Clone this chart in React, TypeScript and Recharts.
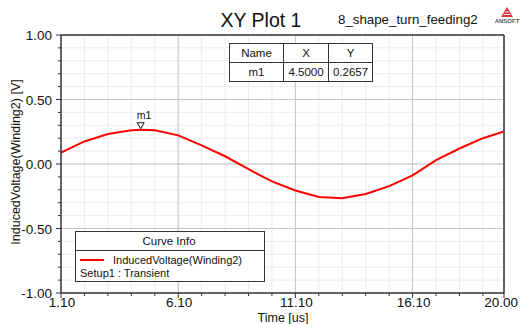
import React from "react";
import {
  LineChart,
  Line,
  XAxis,
  YAxis,
  CartesianGrid,
  ReferenceLine,
  ReferenceDot,
} from "recharts";

const times = [1.1, 2.1, 3.1, 4.1, 4.5, 5.1, 6.1, 7.1, 8.1, 9.1, 10.1, 11.1, 12.1, 13.1, 14.1, 15.1, 16.1, 17.1, 18.1, 19.1, 20.0];
const voltages = [0.088, 0.175, 0.233, 0.262, 0.2657, 0.262, 0.222, 0.145, 0.06, -0.04, -0.135, -0.205, -0.255, -0.265, -0.233, -0.172, -0.088, 0.03, 0.12, 0.2, 0.252];

const xTicks = [1.1, 2.1, 3.1, 4.1, 5.1, 6.1, 7.1, 8.1, 9.1, 10.1, 11.1, 12.1, 13.1, 14.1, 15.1, 16.1, 17.1, 18.1, 19.1, 20.0];
const xMajor = [1.1, 6.1, 11.1, 16.1, 20.0];
const yTicks = [-1.0, -0.9, -0.8, -0.7, -0.6, -0.5, -0.4, -0.3, -0.2, -0.1, 0.0, 0.1, 0.2, 0.3, 0.4, 0.5, 0.6, 0.7, 0.8, 0.9, 1.0];
const yMajor = [-1.0, -0.5, 0.0, 0.5, 1.0];
const xMajorInner = [6.1, 11.1, 16.1];
const yMajorInner = [-0.5, 0.0, 0.5];

const markerName = "m1";
const markerX = 4.5;
const markerY = 0.2657;

const title = "XY Plot 1";
const subtitle = "8_shape_turn_feeding2";
const seriesName = "InducedVoltage(Winding2)";
const setupName = "Setup1 : Transient";
const yLabel = "InducedVoltage(Winding2) [V]";
const xLabel = "Time [us]";

const data = times.map((t, i) => ({ t, v: voltages[i] }));

const FONT = "'Liberation Sans', Arial, sans-serif";
const isIn = (arr: number[], v: number) => arr.some((m) => Math.abs(m - v) < 1e-6);

const XTick = (props: any) => {
  const { x, y, payload } = props;
  const major = isIn(xMajor, payload.value);
  const last = Math.abs(payload.value - xMajor[xMajor.length - 1]) < 1e-6;
  return (
    <g>
      <line x1={x} x2={x} y1={y} y2={y + (major ? 5 : 3)} stroke="#333" strokeWidth={1} />
      {major && (
        <text
          x={last ? x + 14 : x + 1}
          y={y + 14}
          textAnchor={last ? "end" : "middle"}
          fontSize={13.5}
          fill="#111"
          fontFamily={FONT}
        >
          {Number(payload.value).toFixed(2)}
        </text>
      )}
    </g>
  );
};

const YTick = (props: any) => {
  const { x, y, payload } = props;
  const major = isIn(yMajor, payload.value);
  return (
    <g>
      <line x1={x} x2={x - (major ? 5 : 3)} y1={y} y2={y} stroke="#333" strokeWidth={1} />
      {major && (
        <text x={x - 9} y={y + 5} textAnchor="end" fontSize={13.5} fill="#111" fontFamily={FONT}>
          {Number(payload.value).toFixed(2)}
        </text>
      )}
    </g>
  );
};

const MarkerShape = (props: any) => {
  const { cx, cy } = props;
  return (
    <g>
      <text x={cx - 4} y={cy - 11} fontSize={10.5} fill="#111" fontFamily={FONT}>
        {markerName}
      </text>
      <path d={`M ${cx - 3.5} ${cy - 7} L ${cx + 3.5} ${cy - 7} L ${cx} ${cy - 1} Z`} fill="#fff" stroke="#111" strokeWidth={1} />
    </g>
  );
};

export default function App() {
  return (
    <div style={{ position: "absolute", left: 0, top: 0, width: 520, height: 324, background: "#fff", fontFamily: FONT }}>
      <LineChart
        width={520}
        height={324}
        data={data}
        margin={{ top: 35, right: 16, bottom: 0, left: 1 }}
      >
        <CartesianGrid stroke="#ececec" strokeWidth={1} />
        {xMajorInner.map((v) => (
          <ReferenceLine key={"vx" + v} x={v} stroke="#c4c4c4" strokeWidth={1} />
        ))}
        {yMajorInner.map((v) => (
          <ReferenceLine key={"hy" + v} y={v} stroke="#c4c4c4" strokeWidth={1} />
        ))}
        <ReferenceLine y={1.0} stroke="#333" strokeWidth={1.5} />
        <ReferenceLine x={20.0} stroke="#333" strokeWidth={1.5} />
        <XAxis
          dataKey="t"
          type="number"
          domain={[1.1, 20.0]}
          ticks={xTicks}
          interval={0}
          tickSize={0}
          tickMargin={0}
          tickLine={false}
          tick={<XTick />}
          height={31}
          axisLine={{ stroke: "#333", strokeWidth: 1.5 }}
          allowDataOverflow
        />
        <YAxis
          type="number"
          domain={[-1.0, 1.0]}
          ticks={yTicks}
          interval={0}
          tickSize={0}
          tickMargin={0}
          tickLine={false}
          tick={<YTick />}
          width={60}
          axisLine={{ stroke: "#333", strokeWidth: 1.5 }}
          allowDataOverflow
        />
        <Line
          type="linear"
          dataKey="v"
          stroke="#ff0000"
          strokeWidth={2}
          dot={false}
          isAnimationActive={false}
        />
        <ReferenceDot x={markerX} y={markerY} r={3} shape={<MarkerShape />} />
      </LineChart>
      <svg
        width={520}
        height={324}
        style={{ position: "absolute", left: 0, top: 0, pointerEvents: "none" }}
        fontFamily={FONT}
      >
        <text x={261} y={27} textAnchor="middle" fontSize={19.5} fill="#111">
          {title}
        </text>
        <text x={338} y={24} fontSize={13.3} fill="#111">
          {subtitle}
        </text>
        {/* ANSOFT logo */}
        <g>
          <path d="M 507 7 L 513 17 L 501 17 Z" fill="#d23a3a" />
          <path d="M 505 12 L 509 12 M 503.5 14.5 L 510.5 14.5" stroke="#fff" strokeWidth={0.8} />
          <text x={507} y={23} textAnchor="middle" fontSize={6} fontWeight="bold" fill="#555">
            ANSOFT
          </text>
        </g>
        {/* Marker table */}
        <g>
          <rect x={229.5} y={43.5} width={143} height={38} fill="#fff" stroke="#333" strokeWidth={1} />
          <line x1={229.5} x2={372.5} y1={62.5} y2={62.5} stroke="#333" />
          <line x1={283.5} x2={283.5} y1={43.5} y2={81.5} stroke="#333" />
          <line x1={328.5} x2={328.5} y1={43.5} y2={81.5} stroke="#333" />
          <text x={256.5} y={57} textAnchor="middle" fontSize={11.5} fill="#111">Name</text>
          <text x={306} y={57} textAnchor="middle" fontSize={11.5} fill="#111">X</text>
          <text x={350.5} y={57} textAnchor="middle" fontSize={11.5} fill="#111">Y</text>
          <text x={256.5} y={76} textAnchor="middle" fontSize={11.5} fill="#111">{markerName}</text>
          <text x={306} y={76} textAnchor="middle" fontSize={11.5} fill="#111">{markerX.toFixed(4)}</text>
          <text x={350.5} y={76} textAnchor="middle" fontSize={11.5} fill="#111">{markerY.toFixed(4)}</text>
        </g>
        {/* Curve info legend */}
        <g>
          <rect x={75.5} y={231.5} width={189} height={50} fill="#fff" stroke="#333" strokeWidth={1} />
          <line x1={75.5} x2={264.5} y1={250.5} y2={250.5} stroke="#333" />
          <text x={169} y={245} textAnchor="middle" fontSize={11.5} fill="#111">Curve Info</text>
          <line x1={80} x2={104} y1={260} y2={260} stroke="#ff0000" strokeWidth={2} />
          <text x={113} y={264} fontSize={11} fill="#111">{seriesName}</text>
          <text x={80} y={277} fontSize={11} fill="#111">{setupName}</text>
        </g>
        {/* Axis titles */}
        <text x={283} y={321.5} textAnchor="middle" fontSize={12.5} fill="#111">{xLabel}</text>
        <text
          x={20}
          y={162}
          textAnchor="middle"
          fontSize={12.5}
          fill="#111"
          transform="rotate(-90 20 162)"
        >
          {yLabel}
        </text>
      </svg>
    </div>
  );
}
